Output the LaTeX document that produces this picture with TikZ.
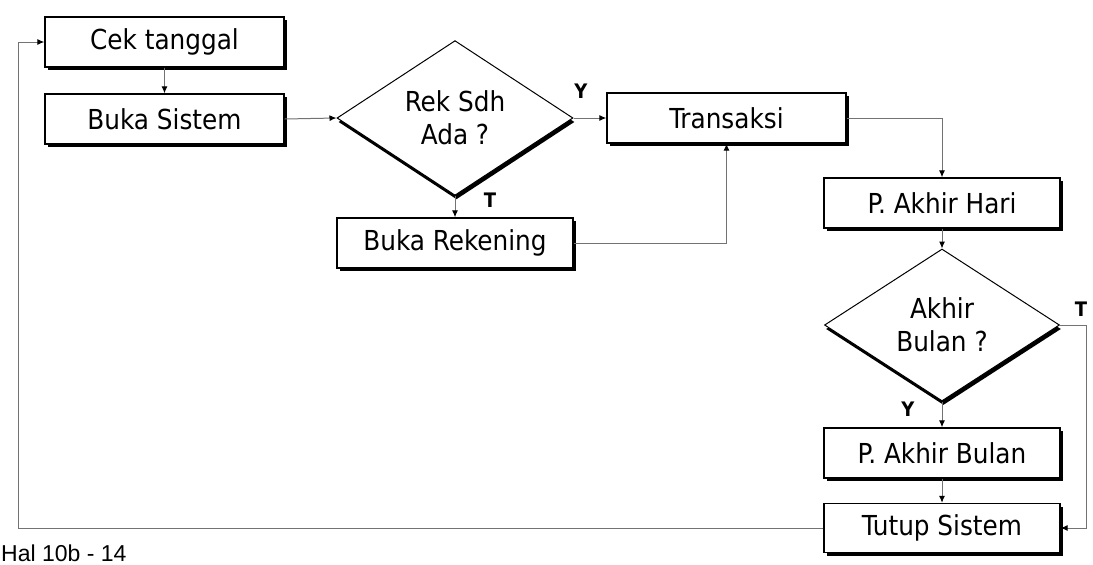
\documentclass[tikz,border=0pt]{standalone}
\usepackage{fontspec}
\setmainfont{DejaVu Sans Condensed}
\newfontfamily\footfont{Liberation Sans}
\newfontfamily\lblfont{DejaVu Sans Condensed Bold}
\usetikzlibrary{shapes.geometric,shadows,arrows.meta}
\begin{document}
\begin{tikzpicture}[x=1pt,y=-1pt,
  procbox/.style={draw=black,line width=1.4pt,fill=white,rectangle,
    minimum width=236pt,minimum height=50pt,inner sep=0pt,
    font=\fontsize{27.5}{30}\selectfont,
    drop shadow={shadow xshift=3pt,shadow yshift=-3pt,fill=black,opacity=1}},
  decis/.style={draw=black,line width=1pt,fill=white,diamond,
    minimum width=236pt,minimum height=152pt,inner sep=0pt,align=center,
    font=\fontsize{27.5}{33}\selectfont,
    drop shadow={shadow xshift=1.5pt,shadow yshift=-4pt,fill=black,opacity=1}},
  conn/.style={draw=black!55,line width=1pt,-{Latex[length=7pt,width=6pt,black]}},
  plainconn/.style={draw=black!55,line width=1pt},
  yt/.style={font=\lblfont\fontsize{20}{22}\selectfont,inner sep=0pt}]
\useasboundingbox (0,0) rectangle (1093,565);
\fill[white] (0,0) rectangle (1093,565);

\node[procbox,minimum width=239pt] (cek) at (164.5,42) {Cek tanggal};
\node[procbox,minimum width=239pt] (buka) at (164.5,119) {Buka Sistem};
\node[decis] (d1) at (455,118) {Rek Sdh\\Ada ?};
\node[procbox,minimum width=239pt] (trans) at (726.5,118) {Transaksi};
\node[procbox] (rek) at (455,243) {Buka Rekening};
\node[procbox] (hari) at (942,203) {P. Akhir Hari};
\node[decis,minimum width=235pt] (d2) at (942,325) {Akhir\\Bulan ?};
\node[procbox] (bulan) at (942,453) {P. Akhir Bulan};
\node[procbox,minimum height=49pt] (tutup) at (942,528) {Tutup Sistem};

\coordinate (tright) at (1086,325);
\coordinate (lleft) at (18,528);

\draw[conn] (cek.south) -- (buka.north);
\draw[conn] (buka.east) -- (d1.west);
\draw[conn] (d1.east) -- (trans.west);
\draw[conn] (d1.south) -- (rek.north);
\draw[conn] (rek.east) -| (trans.south);
\draw[conn] (trans.east) -| (hari.north);
\draw[conn] (hari.south) -- (d2.north);
\draw[conn] (d2.south) -- (bulan.north);
\draw[conn] (bulan.south) -- (tutup.north);
\draw[plainconn] (d2.east) -- (tright);
\draw[conn] (tright) |- (tutup.east);
\draw[plainconn] (tutup.west) -- (lleft);
\draw[conn] (lleft) |- (cek.west);

\node[yt] (ly1) at (581,91) {Y};
\node[yt] (lt1) at (490,200) {T};
\node[yt] (lt2) at (1081,309) {T};
\node[yt] (ly2) at (908,409) {Y};

\node[anchor=base west,inner sep=0pt,font=\footfont\fontsize{23}{24}\selectfont] (foot) at (1,561) {Hal 10b - 14};
\end{tikzpicture}
\end{document}
